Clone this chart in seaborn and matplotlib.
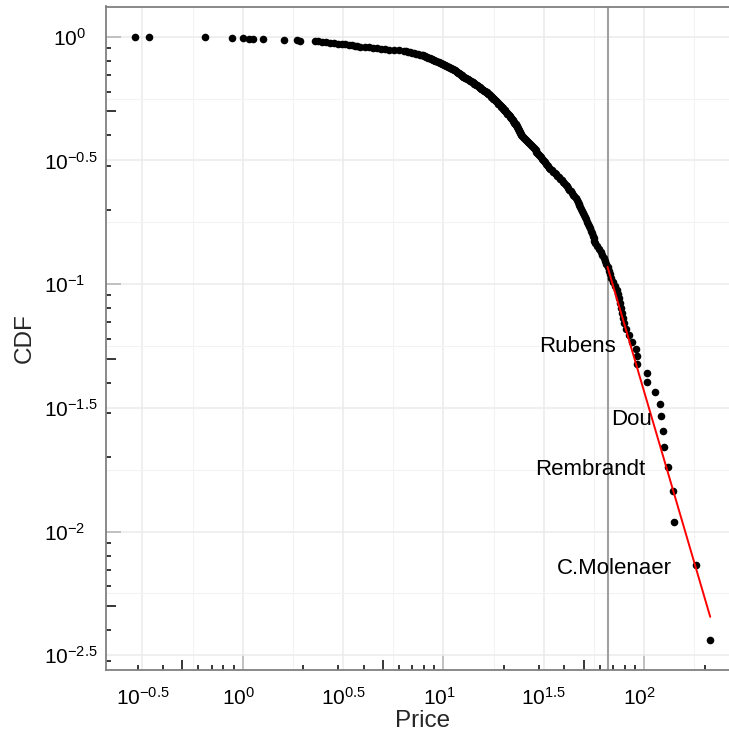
import numpy as np
import pandas as pd
import matplotlib
matplotlib.use("Agg")
import matplotlib.pyplot as plt
import matplotlib.ticker as mticker
import matplotlib.transforms as mtransforms
import seaborn as sns

# prices, ascending
prices = [
    0.29, 0.34, 0.65, 0.88, 1.0, 1.07, 1.12, 1.26, 1.6, 1.87, 1.92,
    2.30, 2.38, 2.49, 2.61, 2.73, 2.86, 3.00, 3.14, 3.25, 3.40, 3.52, 3.64, 3.73, 3.86,
    4.08, 4.27, 4.48, 4.69, 4.91, 5.14, 5.38, 5.69, 6.03, 6.39,
    6.54, 6.69, 6.84, 7.00, 7.16, 7.33, 7.50, 7.67, 7.81, 7.94,
    8.03, 8.13, 8.22, 8.32, 8.41, 8.56, 8.66, 8.75, 8.89, 9.01,
    9.11, 9.22, 9.38, 9.49, 9.60, 9.71, 9.82, 9.93, 10.08, 10.22,
    10.34, 10.46, 10.58, 10.70, 10.82, 10.95, 11.07, 11.20, 11.33, 11.46,
    11.55, 11.65, 11.74, 11.84, 11.93, 12.03, 12.12, 12.22, 12.32, 12.42,
    12.57, 12.71, 12.85, 13.00, 13.15, 13.30, 13.46, 13.61, 13.74, 13.87,
    13.99, 14.14, 14.27, 14.42, 14.55, 14.68, 14.84, 14.97, 15.13, 15.27,
    15.44, 15.62, 15.80, 15.98, 16.11, 16.26, 16.41, 16.58, 16.75, 16.93,
    17.07, 17.21, 17.34, 17.48, 17.62, 17.76, 17.91, 18.05, 18.20, 18.34,
    18.49, 18.64, 18.79, 18.94, 19.09, 19.25, 19.40, 19.56, 19.71, 19.87,
    20.03, 20.19, 20.36, 20.52, 20.69, 20.85, 21.02, 21.19, 21.36, 21.54,
    21.68, 21.83, 21.98, 22.14, 22.29, 22.44, 22.60, 22.76, 22.91, 23.07,
    23.21, 23.34, 23.48, 23.61, 23.75, 23.88, 24.02, 24.15, 24.29, 24.43,
    24.71, 25.00, 25.29, 25.58, 25.88, 26.17, 26.48, 26.78, 27.10, 27.41,
    27.68, 27.94, 28.22, 28.49, 28.77, 29.05, 29.34, 29.62, 29.91, 30.20,
    30.57, 30.94, 31.32, 31.70, 32.08, 32.47, 32.86, 33.27, 33.67, 34.08,
    34.63, 35.19, 35.76, 36.34, 36.93, 37.52, 38.13, 38.75, 39.37, 40.01,
    40.59, 41.17, 41.77, 42.36, 42.98, 43.60, 44.23, 44.87, 45.52, 46.17,
    46.66, 47.14, 47.63, 48.12, 48.62, 49.12, 49.63, 50.14, 50.67, 51.19,
    51.85, 52.51, 53.17, 53.84, 54.52,
    55.01, 55.52, 56.04, 56.55, 57.08,
    58.27, 59.48, 60.72, 61.98, 63.27,
    64.08, 64.89, 65.72, 66.56, 67.41,
    68.74, 70.10, 71.48, 72.89, 74.30,
    74.82, 75.69, 76.56, 77.44, 78.24,
    79.14, 80.98, 83.6, 86.96, 91.3, 92.1, 92.1,
    103.2, 103.2, 113.6, 120.3, 121.7, 123.5, 124.9, 131.4, 139.1, 141.2, 181.8, 213.4,
]

# power-law tail fit
xmin = 65.7
fit_x = [65.7, 213.4]
fit_cdf = [0.1174, 0.00452]

# labelled painters (label anchor, right-aligned)
names = ["Rubens", "Dou", "Rembrandt", "C.Molenaer"]
name_x = [72.4, 109.4, 101.3, 137.5]
name_y = [0.0562, 0.0283, 0.01775, 0.00708]

x_breaks = [-0.5, 0, 0.5, 1, 1.5, 2]
y_breaks = [0, -0.5, -1, -1.5, -2, -2.5]

sns.set_theme(style="white")
plt.rcParams["font.family"] = ["Liberation Sans", "DejaVu Sans"]
plt.rcParams["mathtext.default"] = "regular"

price_sorted = np.sort(np.array(prices))
n = len(price_sorted)
df = pd.DataFrame({"price": price_sorted, "cdf": (n - np.arange(n)) / n})

fig = plt.figure(figsize=(7.29, 7.36), dpi=100)
fig.patch.set_facecolor("white")
ax = fig.add_axes([106 / 729, 66 / 736, 633 / 729, 663.5 / 736])
ax.set_xscale("log")
ax.set_yscale("log")
ax.set_facecolor("white")

sns.scatterplot(data=df, x="price", y="cdf", color="black", s=30,
                linewidth=0, ax=ax, zorder=3)
ax.axvline(xmin, color="#A0A0A0", lw=1.5, zorder=2)
sns.lineplot(x=fit_x, y=fit_cdf, color="red", lw=1.4, ax=ax, zorder=4)

for nm, tx, ty in zip(names, name_x, name_y):
    ax.text(tx, ty, nm, ha="right", va="center", fontsize=16, color="black", zorder=5)


def tex(b):
    return "$10^{%g}$" % b


ax.xaxis.set_major_locator(mticker.FixedLocator([10 ** b for b in x_breaks]))
ax.xaxis.set_major_formatter(mticker.FixedFormatter([tex(b) for b in x_breaks]))
ax.xaxis.set_minor_locator(mticker.FixedLocator([10 ** (b + 0.25) for b in [-1] + x_breaks]))
ax.xaxis.set_minor_formatter(mticker.NullFormatter())
ax.yaxis.set_major_locator(mticker.FixedLocator([10 ** b for b in y_breaks]))
ax.yaxis.set_major_formatter(mticker.FixedFormatter([tex(b) for b in y_breaks]))
ax.yaxis.set_minor_locator(mticker.FixedLocator([10 ** (b - 0.25) for b in [0.5] + y_breaks]))
ax.yaxis.set_minor_formatter(mticker.NullFormatter())

ax.grid(which="major", color="#EBEBEB", lw=1.1, zorder=0)
ax.grid(which="minor", color="#F3F3F3", lw=0.8, zorder=0)
ax.set_axisbelow(True)

ax.tick_params(which="major", direction="out", length=3, width=1.1,
               color="#333333", labelsize=15, labelcolor="black")
ax.tick_params(axis="x", which="major", pad=9)
ax.tick_params(axis="y", which="major", pad=3)
ax.tick_params(which="minor", length=0)

# integer-exponent labels sit a little to the left in the original
for tick, b in zip(ax.xaxis.get_major_ticks(), x_breaks):
    if float(b).is_integer():
        lab = tick.label1
        lab.set_transform(lab.get_transform() + mtransforms.ScaledTranslation(-0.045, 0, fig.dpi_scale_trans))
for tick, b in zip(ax.yaxis.get_major_ticks(), y_breaks):
    if float(b).is_integer():
        lab = tick.label1
        lab.set_transform(lab.get_transform() + mtransforms.ScaledTranslation(-0.12, 0, fig.dpi_scale_trans))

for side in ["top", "left", "bottom"]:
    ax.spines[side].set_visible(True)
    ax.spines[side].set_color("#808080")
    ax.spines[side].set_linewidth(1.3)
ax.spines["right"].set_visible(False)

# log ticks inside the panel (1x long, 5x mid, others short)
decades = [10.0 ** k for k in range(-4, 4)]
fives = [5 * d for d in decades]
others = [m * d for d in decades for m in [2, 3, 4, 6, 7, 8, 9]]


def ident(v):
    return v


for tick_set, long_len, short_len in [((decades, fives), 10.8, 7.2), ((others, []), 3.6, 3.6)]:
    sx = ax.secondary_xaxis("bottom", functions=(ident, ident))
    sy = ax.secondary_yaxis("left", functions=(ident, ident))
    for sec, axis in [(sx, sx.xaxis), (sy, sy.yaxis)]:
        axis.set_major_locator(mticker.FixedLocator(tick_set[0]))
        axis.set_minor_locator(mticker.FixedLocator(tick_set[1]))
        axis.set_major_formatter(mticker.NullFormatter())
        axis.set_minor_formatter(mticker.NullFormatter())
        sec.tick_params(which="major", direction="in", length=long_len, width=1.1, color="black")
        sec.tick_params(which="minor", direction="in", length=short_len, width=1.1, color="black")
        for sp in sec.spines.values():
            sp.set_visible(False)

ax.set_xlabel("Price", fontsize=17.5, labelpad=1)
ax.set_ylabel("CDF", fontsize=17.5, labelpad=6)

plt.savefig("out.png", dpi=100)
plt.close()
